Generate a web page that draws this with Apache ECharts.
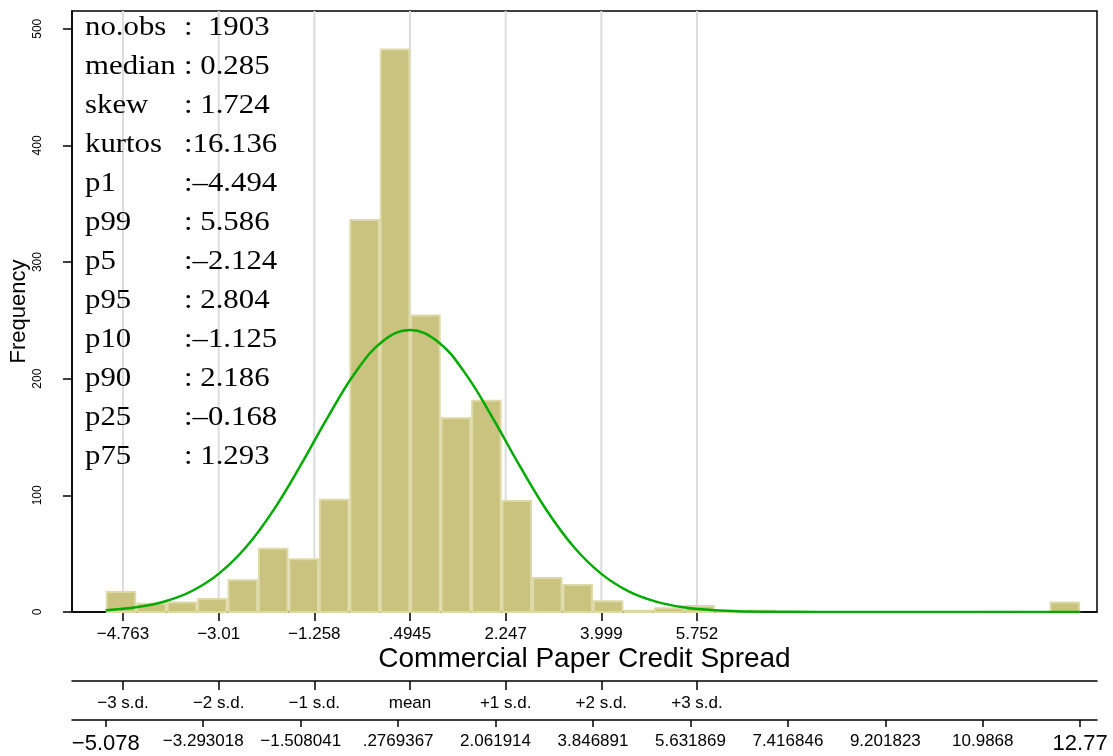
<!DOCTYPE html>
<html><head><meta charset="utf-8">
<script src="https://cdn.jsdelivr.net/npm/echarts@6/dist/echarts.min.js"></script>
<style>html,body{margin:0;padding:0;background:#fff}#c{width:1113px;height:756px}</style>
</head><body><div id="c"></div>
<script>
// ---- data ----
const binMin = -5.078;
const binMax = 12.77;
const binCounts = [18, 8, 9, 12, 28, 55, 46, 97, 337, 483, 255, 167, 182, 96, 30, 24,
                   10, 2, 4, 6, 1, 2, 0, 0, 0, 0, 0, 0, 0, 1, 0, 9];
const meanTicks = [-4.763, -3.01, -1.258, 0.4945, 2.247, 3.999, 5.752];
const meanTickLabels = ['\u22124.763', '\u22123.01', '\u22121.258', '.4945', '2.247', '3.999', '5.752'];
const sdLabels = ['\u22123 s.d.', '\u22122 s.d.', '\u22121 s.d.', 'mean', '+1 s.d.', '+2 s.d.', '+3 s.d.'];
const rangeTicks = [-5.078, -3.293018, -1.508041, 0.2769367, 2.061914, 3.846891, 5.631869,
                    7.416846, 9.201823, 10.9868, 12.77];
const rangeTickLabels = ['\u22125.078', '\u22123.293018', '\u22121.508041', '.2769367', '2.061914',
                         '3.846891', '5.631869', '7.416846', '9.201823', '10.9868', '12.77'];
const freqTicks = [0, 100, 200, 300, 400, 500];
const curveX = [-5.078, -4.5, -4.0, -3.5, -3.0, -2.5, -2.0, -1.5, -1.0, -0.5, 0.0, 0.4945,
                1.0, 1.5, 2.0, 2.5, 3.0, 3.5, 4.0, 4.5, 5.0, 5.5, 6.0, 6.5, 7.0, 8.0, 9.0, 12.77];
const curveY = [1.5, 4.2, 9.0, 18.0, 33.1, 56.1, 87.8, 126.5, 168.0, 205.8, 232.3, 241.7,
                231.9, 205.0, 167.1, 125.6, 87.0, 55.5, 32.7, 17.7, 8.9, 4.1, 1.7, 0.7, 0.3, 0.03, 0, 0];
const statLabels = ['no.obs', 'median', 'skew', 'kurtos', 'p1', 'p99', 'p5', 'p95', 'p10', 'p90', 'p25', 'p75'];
const statValues = [':  1903', ': 0.285', ': 1.724', ':16.136', ':\u20134.494', ': 5.586',
                    ':\u20132.124', ': 2.804', ':\u20131.125', ': 2.186', ':\u20130.168', ': 1.293'];

// ---- chart ----
const X_MIN = -5.697, X_MAX = 13.079, Y_MAX = 515.2;
const binW = (binMax - binMin) / binCounts.length;
const barData = binCounts.map((c, i) => [binMin + i * binW, binMin + (i + 1) * binW, c]);
const lookup = (ticks, labels) => v => {
  for (let i = 0; i < ticks.length; i++) if (Math.abs(ticks[i] - v) < 1e-6) return labels[i];
  return '';
};
const SANS = '"Liberation Sans", Arial, sans-serif';
const SERIF = '"Liberation Serif", "Times New Roman", serif';
const blackLine = () => ({ show: true, onZero: false, lineStyle: { color: '#000', width: 1.5 } });

function xAx(offset, ticks, fmt, tickLen, margin, extra) {
  return Object.assign({
    type: 'value', position: 'bottom', offset: offset, min: X_MIN, max: X_MAX,
    axisLine: blackLine(),
    axisTick: { show: true, customValues: ticks, length: tickLen, lineStyle: { color: '#000', width: 1.5 } },
    axisLabel: { customValues: ticks, formatter: fmt, color: '#000', fontSize: 17, fontFamily: SANS, margin: margin },
    splitLine: { show: false }
  }, extra || {});
}

const graphics = [];
statLabels.forEach((t, i) => {
  graphics.push({ type: 'text', x: 85, y: 28 + 39 * i, scaleX: 1.1, z: 10,
    style: { text: t, fontSize: 28, fontFamily: SERIF, fill: '#000', verticalAlign: 'middle', align: 'left' } });
  graphics.push({ type: 'text', x: 184, y: 28 + 39 * i, scaleX: 1.1, z: 10,
    style: { text: statValues[i], fontSize: 28, fontFamily: SERIF, fill: '#000', verticalAlign: 'middle', align: 'left' } });
});

const option = {
  animation: false,
  backgroundColor: '#fff',
  grid: { left: 72, right: 16, top: 11, bottom: 144, containLabel: false, outerBoundsMode: 'none',
          show: true, borderColor: '#000', borderWidth: 1.5 },
  xAxis: [
    xAx(0, meanTicks, lookup(meanTicks, meanTickLabels), 9, 14, {
      name: 'Commercial Paper Credit Spread', nameLocation: 'middle', nameGap: 33, nameMoveOverlap: false,
      nameTextStyle: { fontSize: 28, color: '#000', fontFamily: SANS }
    }),
    xAx(69, meanTicks, lookup(meanTicks, sdLabels), 9, 14),
    xAx(108, rangeTicks, v => {
      const s = lookup(rangeTicks, rangeTickLabels)(v);
      return (Math.abs(v - rangeTicks[0]) < 1e-6 || Math.abs(v - rangeTicks[rangeTicks.length - 1]) < 1e-6)
        ? '{big|' + s + '}' : s;
    }, 7, 13)
  ],
  yAxis: {
    type: 'value', min: 0, max: Y_MAX,
    axisLine: blackLine(),
    axisTick: { show: true, customValues: freqTicks, length: 9, lineStyle: { color: '#000', width: 1.5 } },
    axisLabel: { customValues: freqTicks, rotate: 90, fontSize: 12, color: '#000', fontFamily: SANS, margin: 28 },
    splitLine: { show: false },
    name: 'Frequency', nameLocation: 'middle', nameGap: 42, nameRotate: 90, nameMoveOverlap: false,
    nameTextStyle: { fontSize: 22, color: '#000', fontFamily: SANS }
  },
  graphic: graphics,
  series: [
    {
      type: 'custom', xAxisIndex: 0, yAxisIndex: 0, silent: true, z: 1,
      data: meanTicks.map(v => [v, 0]),
      encode: { x: 0, y: 1 },
      renderItem: (params, api) => {
        const p = api.coord([api.value(0), 0]);
        return { type: 'line', shape: { x1: p[0], y1: params.coordSys.y, x2: p[0], y2: p[1] },
                 style: { stroke: '#DCDCDC', lineWidth: 2 } };
      }
    },
    {
      type: 'custom', xAxisIndex: 0, yAxisIndex: 0, silent: true, z: 2,
      data: barData,
      encode: { x: [0, 1], y: 2 },
      renderItem: (params, api) => {
        if (api.value(2) <= 0) return null;
        const a = api.coord([api.value(0), api.value(2)]);
        const b = api.coord([api.value(1), 0]);
        return { type: 'rect', shape: { x: a[0] + 1, y: a[1] + 1, width: b[0] - a[0] - 2, height: b[1] - a[1] - 1 },
                 style: { fill: '#C9C37F', stroke: '#DDD9A6', lineWidth: 2 } };
      }
    },
    {
      type: 'line', xAxisIndex: 0, yAxisIndex: 0, z: 3, silent: true,
      data: curveX.map((x, i) => [x, curveY[i]]),
      showSymbol: false, smooth: 0.4,
      lineStyle: { color: '#00AA00', width: 2.5 }
    }
  ]
};
option.xAxis[2].axisLabel.rich = { big: { fontSize: 22, fontFamily: SANS, color: '#000' } };

const chart = echarts.init(document.getElementById('c'), null, { renderer: 'canvas' });
chart.setOption(option);
</script>
</body></html>
